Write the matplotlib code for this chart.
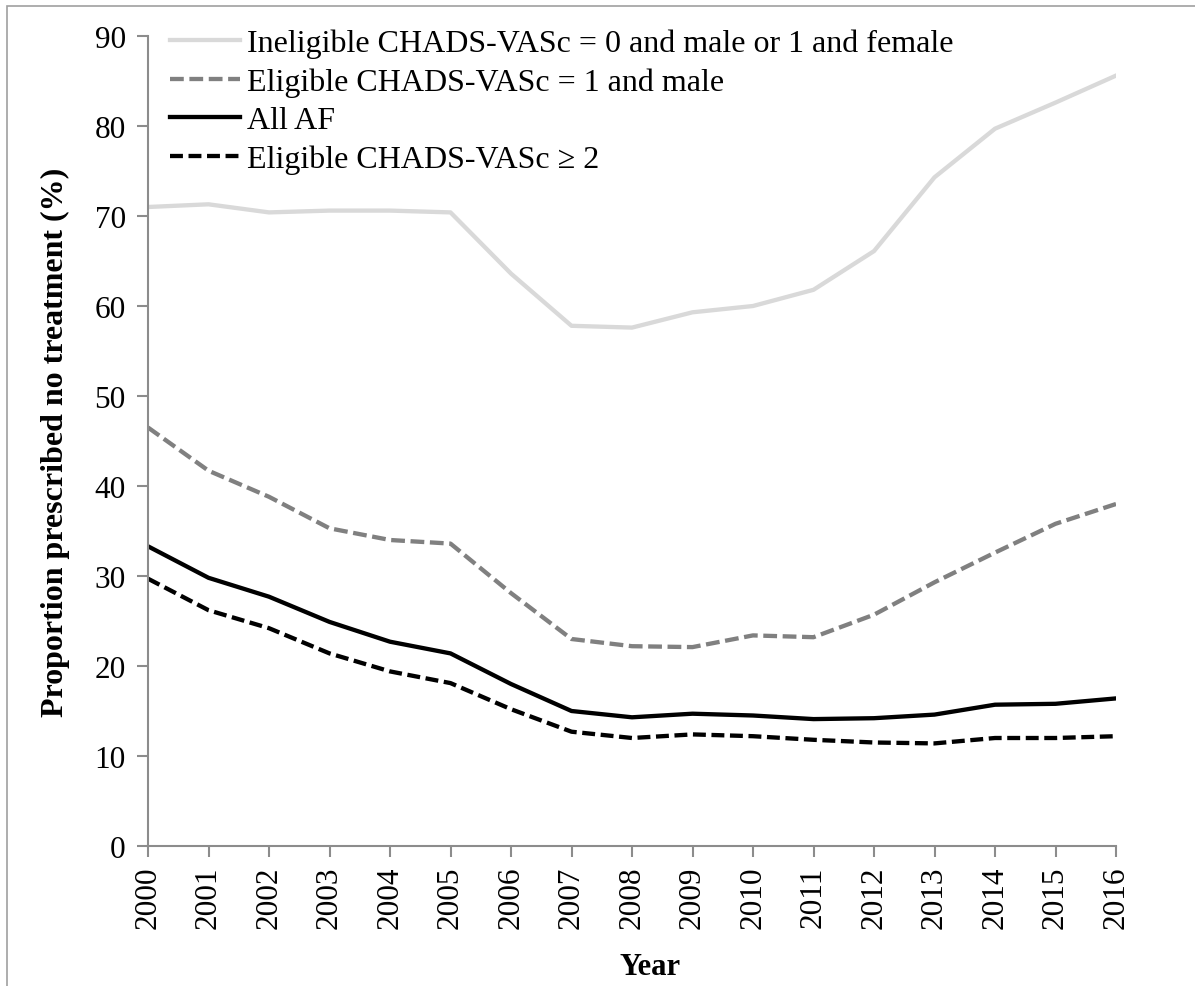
import matplotlib
matplotlib.use("Agg")
import matplotlib.pyplot as plt
from matplotlib.patches import Rectangle

years = list(range(2000, 2017))
year_labels = [str(y) for y in years]

ineligible = [71.0, 71.3, 70.4, 70.6, 70.6, 70.4, 63.6, 57.8, 57.6, 59.3, 60.0, 61.8, 66.1, 74.3, 79.7, 82.6, 85.6]
eligible_1_male = [46.5, 41.7, 38.8, 35.3, 34.0, 33.6, 28.1, 23.0, 22.2, 22.1, 23.4, 23.2, 25.7, 29.3, 32.6, 35.8, 38.0]
all_af = [33.3, 29.8, 27.7, 24.9, 22.7, 21.4, 18.0, 15.0, 14.3, 14.7, 14.5, 14.1, 14.2, 14.6, 15.7, 15.8, 16.4]
eligible_ge2 = [29.7, 26.2, 24.2, 21.4, 19.4, 18.1, 15.2, 12.7, 12.0, 12.4, 12.2, 11.8, 11.5, 11.4, 12.0, 12.0, 12.2]

labels = [
    "Ineligible CHADS-VASc = 0 and male or 1 and female",
    "Eligible CHADS-VASc = 1 and male",
    "All AF",
    "Eligible CHADS-VASc \u2265 2",
]

plt.rcParams['font.family'] = ['Liberation Serif', 'DejaVu Serif']

fig = plt.figure(figsize=(11.95, 9.87), dpi=100)
ax = fig.add_axes([148/1195, 1-847/987, (1116-148)/1195, (847-37)/987])

lw = 3.1
ax.plot(years, ineligible, color='#d9d9d9', lw=lw, label=labels[0])
ax.plot(years, eligible_1_male, color='#808080', lw=lw, dashes=(3.2, 1.3), label=labels[1])
ax.plot(years, all_af, color='black', lw=lw, label=labels[2])
ax.plot(years, eligible_ge2, color='black', lw=lw, dashes=(3, 1.3), label=labels[3])

ax.set_xlim(2000, 2016)
ax.set_ylim(0, 90)
ax.set_yticks(range(0, 91, 10))
ax.set_xticks(years)
ax.set_xticklabels(year_labels, rotation=90)

for s in ['top', 'right']:
    ax.spines[s].set_visible(False)
for s in ['left', 'bottom']:
    ax.spines[s].set_color('#8c8c8c')
    ax.spines[s].set_linewidth(1.5)
ax.tick_params(axis='both', colors='#8c8c8c', length=8, width=1.5, labelsize=22.5, labelcolor='black')
ax.tick_params(axis='y', pad=8)
ax.tick_params(axis='x', pad=6)

ax.set_ylabel("Proportion prescribed no treatment (%)", fontsize=23, fontweight='bold', labelpad=18)
ax.set_xlabel("Year", fontsize=22, fontweight='bold', labelpad=17)
ax.xaxis.label.set_x((650 - 148) / 968)

leg = ax.legend(loc='upper left', frameon=False, fontsize=23, handlelength=2.2,
                handletextpad=0.2, labelspacing=0.29, borderaxespad=0.0,
                bbox_to_anchor=(0.0095, 1.025))

fig.patches.append(Rectangle((7/1195, -0.01), 1.1, 1 - 7/987 + 0.01, transform=fig.transFigure,
                             fill=False, edgecolor='#a0a0a0', lw=1.2))

fig.savefig("out.png", dpi=100)
